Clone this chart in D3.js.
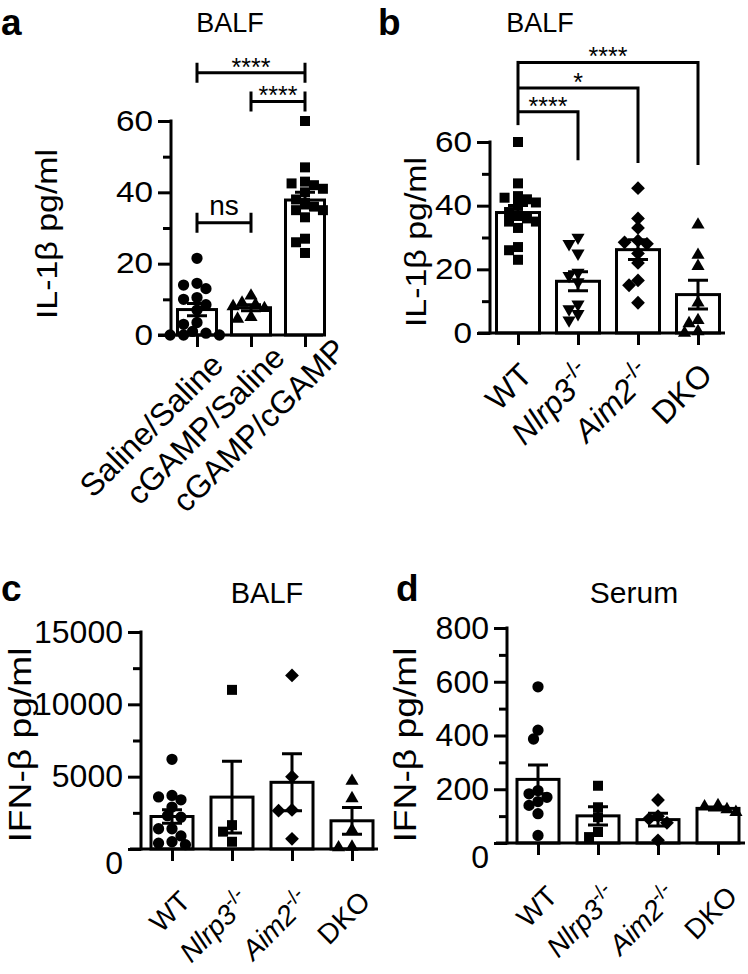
<!DOCTYPE html>
<html><head><meta charset="utf-8">
<script src="https://cdn.jsdelivr.net/npm/d3@7"></script>
<style>
body{margin:0;background:#fff}
text{font-family:"Liberation Sans",Arial,Helvetica,sans-serif;fill:#000}
</style>
</head><body>
<svg id="chart" width="748" height="974"></svg>
<script>
// ---------------- DATA ----------------
const catsA = ["Saline/Saline", "cGAMP/Saline", "cGAMP/cGAMP"];
const a_salineSaline = [21.5, 14.5, 14, 13, 10.5, 10, 8.5, 7, 3.5, 3, 1, 0.5, 0, 0, 0];
const a_cgampSaline  = [11, 9, 8.5, 8, 7.5, 5, 4.5];
const a_cgampCgamp   = [60, 47, 43, 42.5, 42, 41, 40, 38, 37, 36, 35, 35, 33, 27, 26, 23];
const ticksA = [0, 20, 40, 60];
const minorA = [10, 30, 50];
const sigA = [
  {from: 0, to: 1, level: 31.5, label: "ns"},
  {from: 1, to: 2, level: 65.5, label: "****"},
  {from: 0, to: 2, level: 73.5, label: "****"}
];

const catsGeno = ["WT", "Nlrp3-/-", "Aim2-/-", "DKO"];
const b_wt    = [60, 47, 43, 42.5, 42, 41, 40, 38, 37, 36, 35, 35, 33, 27, 26, 23];
const b_nlrp3 = [30, 28, 25, 19, 18, 16, 9, 7.5, 6, 4];
const b_aim2  = [45.5, 36, 33, 29, 28.5, 28, 25, 22, 16.5, 15, 9.5];
const b_dko   = [34, 24.5, 21, 9.5, 4, 3, 0.5, 0];
const ticksB = [0, 20, 40, 60];
const minorB = [10, 30, 50];
const sigB = [
  {to: 1, level: 69.5, drop: 54.3, label: "****"},
  {to: 2, level: 77, drop: 53.4, label: "*"},
  {to: 3, level: 85, drop: 52.8, label: "****"}
];
const sigBStem = 65.3;

const c_wt    = [6200, 3700, 3600, 3400, 2900, 2300, 2200, 1400, 1400, 900, 500, 400, 300];
const c_nlrp3 = [11000, 1650, 1200, 500];
const c_aim2  = [12000, 5000, 2700, 2650, 700];
const c_dko   = [4700, 3500, 1300, 150, 100];
const ticksC = [0, 5000, 10000, 15000];
const minorC = [2500, 7500, 12500];

const d_wt    = [581, 420, 387, 195, 183, 170, 154, 140, 109, 28];
const d_nlrp3 = [213, 133, 96, 41, 22];
const d_aim2  = [160, 100, 90, 75, 10];
const d_dko   = [140, 135, 125, 115];
const ticksD = [0, 200, 400, 600, 800];
const minorD = [100, 300, 500, 700];

const shapesA = ["circle", "triangle", "square"];
const shapesB = ["square", "triangleDown", "diamond", "triangle"];
const shapesCD = ["circle", "square", "diamond", "triangle"];

// ---------------- DRAW ----------------
const svg = d3.select("#chart");
const LW = 3;

function symbolPath(shape) {
  switch (shape) {
    case "circle": return d3.symbol(d3.symbolCircle, 100)();
    case "square": return d3.symbol(d3.symbolSquare, 100)();
    case "triangle": return d3.symbol(d3.symbolTriangle, 75)();
    case "triangleDown": return d3.symbol(d3.symbolTriangle, 75)();
    case "diamond": return d3.symbol(d3.symbolSquare, 95)();
  }
}
function symbolRot(shape) {
  if (shape === "triangleDown") return 180;
  if (shape === "diamond") return 45;
  return 0;
}

function swarm(vals, y, r) {
  const pts = vals.map(v => ({v, py: y(v)})).sort((a, b) => a.py - b.py);
  const placed = [];
  const step = r * 0.8;
  const minD = r * 1.65;
  pts.forEach(p => {
    for (let k = 0; k < 40; k++) {
      const m = k === 0 ? 0 : (k % 2 ? -1 : 1) * Math.ceil(k / 2);
      const dx = m * step;
      const ok = placed.every(q => (dx - q.dx) ** 2 + (p.py - q.py) ** 2 >= minD ** 2);
      if (ok) { p.dx = dx; placed.push(p); break; }
    }
  });
  return placed;
}

function stats(vals) {
  const m = d3.mean(vals);
  const sd = d3.deviation(vals);
  return {mean: m, sem: sd / Math.sqrt(vals.length)};
}

function catLabel(sel, name) {
  if (name.endsWith("-/-")) {
    sel.append("tspan").attr("font-style", "italic").text(name.slice(0, -3));
    sel.append("tspan").attr("font-size", "0.72em").attr("dy", "-0.55em").text("-/-");
  } else {
    sel.text(name);
  }
}

function stretchTicks(axisG, sx) {
  axisG.selectAll(".tick text").each(function () {
    const t = d3.select(this);
    const x = +t.attr("x");
    t.attr("x", 0).attr("transform", `translate(${x},0) scale(${sx},1)`);
  });
}

function drawPanel(p) {
  const g = svg.append("g");
  const y = d3.scaleLinear().domain([0, p.yMax]).range([p.y0, p.yTop]);
  const x = d3.scalePoint().domain(p.cats).range(p.cx);

  const st = p.groups.map(stats);

  // bars
  g.selectAll("rect.bar").data(p.cats).join("rect")
    .attr("x", d => x(d) - p.barW / 2)
    .attr("y", (d, i) => y(st[i].mean))
    .attr("width", p.barW)
    .attr("height", (d, i) => y(0) - y(st[i].mean))
    .attr("fill", "#fff").attr("stroke", "#000").attr("stroke-width", LW);

  // points
  p.groups.forEach((vals, i) => {
    const pts = swarm(vals, y, 5.6);
    g.append("g").selectAll("path").data(pts).join("path")
      .attr("d", symbolPath(p.shapes[i]))
      .attr("transform", d => `translate(${x(p.cats[i]) + d.dx},${d.py}) rotate(${symbolRot(p.shapes[i])})`)
      .attr("fill", "#000");
  });

  // error bars
  st.forEach((s, i) => {
    const cx = x(p.cats[i]);
    const lo = Math.max(0, s.mean - s.sem), hi = s.mean + s.sem;
    const hw = 10;
    g.append("path")
      .attr("d", `M${cx},${y(lo)}V${y(hi)}M${cx - hw},${y(hi)}H${cx + hw}M${cx - hw},${y(lo)}H${cx + hw}`)
      .attr("stroke", "#000").attr("stroke-width", LW).attr("fill", "none");
  });

  // y axis major
  const ya = g.append("g").attr("transform", `translate(${p.yAxisX},0)`)
    .call(d3.axisLeft(y).tickValues(p.ticks).tickSize(13).tickSizeOuter(0).tickPadding(5).tickFormat(d3.format("d")));
  ya.select(".domain").attr("stroke-width", LW).attr("d", `M0,${y(0) + 1.5}V${y(p.yMax) - 1.5}`);
  ya.selectAll(".tick line").attr("stroke-width", LW);
  ya.selectAll(".tick text").attr("font-size", p.fs).style("font-family", '"Liberation Sans",Arial,sans-serif')
    .attr("dy", d => d === 0 ? `${0.32 + p.zeroDrop}em` : "0.32em");
  stretchTicks(ya, p.tickSx);
  // y axis minor
  const ym = g.append("g").attr("transform", `translate(${p.yAxisX},0)`)
    .call(d3.axisLeft(y).tickValues(p.minor).tickSize(8).tickSizeOuter(0).tickFormat(""));
  ym.select(".domain").remove();
  ym.selectAll(".tick line").attr("stroke-width", LW);

  // x axis
  g.append("line").attr("x1", p.xAxis[0]).attr("x2", p.xAxis[1]).attr("y1", y(0)).attr("y2", y(0))
    .attr("stroke", "#000").attr("stroke-width", LW);
  const xa = g.append("g").attr("transform", `translate(0,${y(0)})`)
    .call(d3.axisBottom(x).tickSize(12).tickFormat(""));
  xa.select(".domain").remove();
  xa.selectAll(".tick line").attr("stroke-width", LW);

  // category labels
  p.cats.forEach(c => {
    const t = g.append("text")
      .attr("transform", `translate(${x(c) + p.lab[0]},${y(0) + p.lab[1]}) rotate(-45) scale(${p.labSx},1)`)
      .attr("text-anchor", p.labAnchor).attr("font-size", p.labFs);
    catLabel(t, c);
  });

  // y title
  g.append("text").attr("transform", `translate(${p.yTitle[1]},${p.yTitle[2]}) rotate(-90) scale(${p.yTitleSx},1)`)
    .attr("text-anchor", "middle").attr("font-size", p.yTitleFs).text(p.yTitle[0]);
  // title
  g.append("text").attr("x", p.title[1]).attr("y", p.title[2]).attr("text-anchor", "middle")
    .attr("font-size", p.titleFs).text(p.title[0]);
  // letter
  g.append("text").attr("x", p.letter[1]).attr("y", p.letter[2]).attr("font-size", 37)
    .attr("font-weight", "bold").text(p.letter[0]);

  return {g, x, y};
}

// Panel a
const A = drawPanel({
  cats: catsA, groups: [a_salineSaline, a_cgampSaline, a_cgampCgamp], shapes: shapesA,
  ticks: ticksA, minor: minorA, yMax: 60, yAxisX: 171, y0: 335, yTop: 121,
  cx: [197, 305], barW: 39, xAxis: [158, 323], fs: 29, tickSx: 1.15, zeroDrop: 0,
  lab: [-38, 98], labFs: 32, labSx: 1, labAnchor: "middle",
  yTitle: ["IL-1β pg/ml", 57, 234], yTitleFs: 30, yTitleSx: 1.13,
  title: ["BALF", 230, 32], titleFs: 27, letter: ["a", 1, 35]
});
sigA.forEach(s => {
  const x1 = A.x(catsA[s.from]), x2 = A.x(catsA[s.to]), yy = A.y(s.level);
  A.g.append("path").attr("d", `M${x1},${yy - 10}V${yy + 10}M${x2},${yy - 10}V${yy + 10}M${x1},${yy}H${x2}`)
    .attr("stroke", "#000").attr("stroke-width", LW).attr("fill", "none");
  const isNs = s.label === "ns";
  A.g.append("text").attr("x", (x1 + x2) / 2).attr("y", isNs ? yy - 8 : yy + 3)
    .attr("text-anchor", "middle").attr("font-size", isNs ? 28 : 25).text(s.label);
});

// Panel b
const B = drawPanel({
  cats: catsGeno, groups: [b_wt, b_nlrp3, b_aim2, b_dko], shapes: shapesB,
  ticks: ticksB, minor: minorB, yMax: 60, yAxisX: 490, y0: 333, yTop: 142,
  cx: [518, 698], barW: 43, xAxis: [478, 725], fs: 29, tickSx: 1.15, zeroDrop: 0,
  lab: [16, 44], labFs: 32, labSx: 1, labAnchor: "end",
  yTitle: ["IL-1β pg/ml", 426, 242], yTitleFs: 30, yTitleSx: 1.13,
  title: ["BALF", 540, 32], titleFs: 27, letter: ["b", 378, 35]
});
{
  const x0 = B.x(catsGeno[0]);
  const top = d3.max(sigB, s => s.level);
  B.g.append("path").attr("d", `M${x0},${B.y(top) - 1.5}V${B.y(sigBStem)}`)
    .attr("stroke", "#000").attr("stroke-width", LW).attr("fill", "none");
  sigB.forEach(s => {
    const x2 = B.x(catsGeno[s.to]), yy = B.y(s.level);
    B.g.append("path").attr("d", `M${x0},${yy}H${x2}V${B.y(s.drop)}`)
      .attr("stroke", "#000").attr("stroke-width", LW).attr("fill", "none");
    B.g.append("text").attr("x", (x0 + x2) / 2).attr("y", yy + 3).attr("text-anchor", "middle")
      .attr("font-size", 25).text(s.label);
  });
}

// Panel c
drawPanel({
  cats: catsGeno, groups: [c_wt, c_nlrp3, c_aim2, c_dko], shapes: shapesCD,
  ticks: ticksC, minor: minorC, yMax: 15000, yAxisX: 141, y0: 849, yTop: 632,
  cx: [172, 352], barW: 42, xAxis: [130, 378], fs: 32, tickSx: 1, zeroDrop: 0.45,
  lab: [20, 54], labFs: 28, labSx: 1, labAnchor: "end",
  yTitle: ["IFN-β pg/ml", 31, 745], yTitleFs: 31, yTitleSx: 1.2,
  title: ["BALF", 267, 603], titleFs: 29, letter: ["c", 1, 601]
});

// Panel d
drawPanel({
  cats: catsGeno, groups: [d_wt, d_nlrp3, d_aim2, d_dko], shapes: shapesCD,
  ticks: ticksD, minor: minorD, yMax: 800, yAxisX: 507, y0: 843, yTop: 628,
  cx: [538, 718], barW: 42, xAxis: [496, 745], fs: 32, tickSx: 1, zeroDrop: 0.45,
  lab: [21, 55], labFs: 28, labSx: 1, labAnchor: "end",
  yTitle: ["IFN-β pg/ml", 416, 745], yTitleFs: 31, yTitleSx: 1.2,
  title: ["Serum", 634, 603], titleFs: 30, letter: ["d", 396, 601]
});
</script>
</body></html>
